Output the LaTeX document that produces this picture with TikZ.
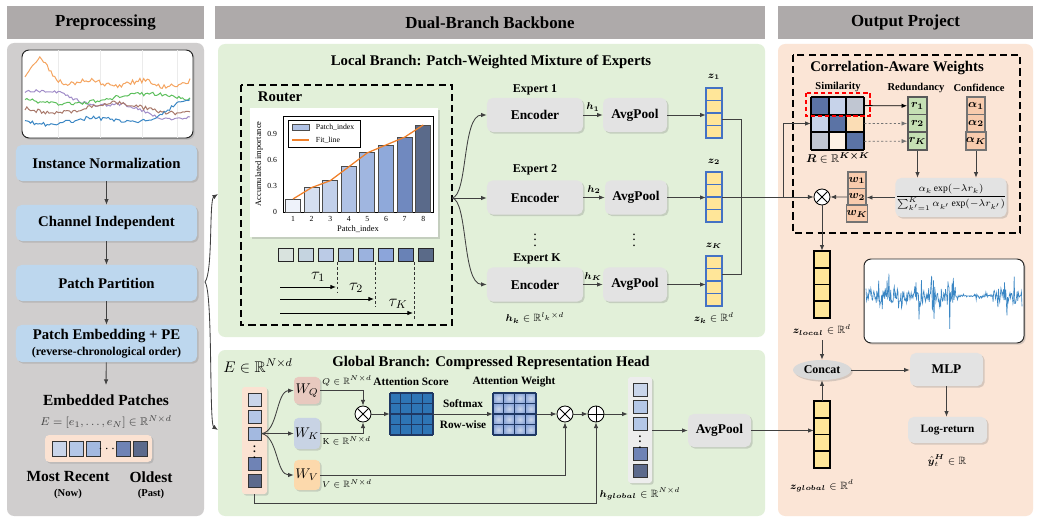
\documentclass[tikz,border=0pt]{standalone}
\usepackage{amsmath}
\usepackage{amssymb}
\usepackage{bm}
\usepackage{fontspec}
\setmainfont{Liberation Serif}
\usetikzlibrary{arrows.meta}
\usetikzlibrary{calc}
\usetikzlibrary{fit}
\usetikzlibrary{shadows}
\usetikzlibrary{shapes.geometric}

\definecolor{hdrgrey}{HTML}{AEAAAA}
\definecolor{leftgrey}{HTML}{D0CECE}
\definecolor{localgreen}{HTML}{E2F0D9}
\definecolor{outpeach}{HTML}{FBE5D6}
\definecolor{stageblue}{HTML}{BDD7EE}
\definecolor{blockgrey}{HTML}{E3E3E3}
\definecolor{zfill}{HTML}{FFE699}
\definecolor{zedge}{HTML}{4472C4}
\definecolor{fitorange}{HTML}{F0802A}
\definecolor{scoreblue}{HTML}{2E75B6}
\definecolor{gridnavy}{HTML}{1F3864}
\definecolor{wqfill}{HTML}{E8C9BF}
\definecolor{wkfill}{HTML}{C8D3E4}
\definecolor{wvfill}{HTML}{FCD9AC}
\definecolor{rgreen}{HTML}{C5E0B4}
\definecolor{apeach}{HTML}{F8CBAD}
\definecolor{epeach}{HTML}{FBE2D2}
\definecolor{colgrey}{HTML}{EDEDED}
\definecolor{sq1}{HTML}{C9D5EA}
\definecolor{sq2}{HTML}{B4C7E7}
\definecolor{sq3}{HTML}{A3B9E0}
\definecolor{sq7}{HTML}{6F83B5}
\definecolor{sq8}{HTML}{5C6A8C}
\definecolor{bar1}{HTML}{EEF2FA}
\definecolor{bar2}{HTML}{D5DFF0}
\definecolor{bar3}{HTML}{C2D0EA}
\definecolor{bar4}{HTML}{B0C2E5}
\definecolor{bar5}{HTML}{A0B6E0}
\definecolor{bar6}{HTML}{8FA9DA}
\definecolor{bar7}{HTML}{7089BF}
\definecolor{bar8}{HTML}{5A6A8A}
\definecolor{rs1}{HTML}{D9E3DE}
\definecolor{rs2}{HTML}{C5D4E0}
\definecolor{rs3}{HTML}{BBCBE6}
\definecolor{rs4}{HTML}{A8BDDF}
\definecolor{rs5}{HTML}{9BB2DE}
\definecolor{rs6}{HTML}{8CA5DA}
\definecolor{rs7}{HTML}{6982B6}
\definecolor{rs8}{HTML}{5A6A88}
\definecolor{sdark}{HTML}{5B73A5}
\definecolor{slight}{HTML}{C7D3EA}
\definecolor{sgrey}{HTML}{C0C6D2}
\definecolor{speach}{HTML}{FBDDB5}
\definecolor{swhite}{HTML}{FDF1E6}
\definecolor{tsorange}{HTML}{F5A45F}
\definecolor{tspurple}{HTML}{A08CC8}
\definecolor{tsgreen}{HTML}{5CBF5C}
\definecolor{tsbrown}{HTML}{A8786A}
\definecolor{tsblue}{HTML}{3A86C4}
\definecolor{concatgrey}{HTML}{D9D9D9}

\tikzstyle{softshadow} = [drop shadow={shadow xshift=1.2pt,shadow yshift=-1.2pt,opacity=0.3}]
\tikzstyle{head} = [fill=hdrgrey, inner sep=0pt, minimum height=0.825cm, font=\fontsize{12}{14}\selectfont\bfseries]
\tikzstyle{stage} = [fill=stageblue, rounded corners=4pt, inner sep=0pt, minimum width=4.525cm, minimum height=0.9cm, softshadow, font=\fontsize{10.5}{12}\selectfont\bfseries]
\tikzstyle{block} = [fill=blockgrey, rounded corners=4pt, inner sep=0pt, softshadow, font=\fontsize{9.5}{11}\selectfont\bfseries]
\tikzstyle{wbox} = [rounded corners=3pt, inner sep=0pt, minimum width=0.65cm, softshadow, font=\fontsize{10}{12}\selectfont]
\tikzstyle{conn} = [draw=black!75, line width=0.6pt, -{Latex[length=4pt,width=3.2pt]}]
\tikzstyle{wire} = [draw=black!75, line width=0.6pt]
\tikzstyle{otimes} = [draw, circle, fill=white, line width=0.6pt, minimum size=0.4cm, inner sep=0pt,
  path picture={\draw (path picture bounding box.north west) -- (path picture bounding box.south east)
  (path picture bounding box.north east) -- (path picture bounding box.south west);}]
\tikzstyle{oplus} = [draw, circle, fill=white, line width=0.6pt, minimum size=0.4cm, inner sep=0pt,
  path picture={\draw (path picture bounding box.north) -- (path picture bounding box.south)
  (path picture bounding box.east) -- (path picture bounding box.west);}]
\tikzstyle{rcell} = [draw=black!65, line width=1.2pt, fill=rgreen, minimum width=0.475cm, minimum height=0.442cm, inner sep=0pt, font=\fontsize{8}{9}\selectfont]
\tikzstyle{acell} = [draw=black!55, line width=1.2pt, fill=apeach, minimum width=0.45cm, minimum height=0.442cm, inner sep=0pt, font=\fontsize{8}{9}\selectfont]
\tikzstyle{wcell} = [draw=black!55, line width=1.2pt, fill=apeach, minimum width=0.45cm, minimum height=0.417cm, inner sep=0pt, font=\fontsize{8}{9}\selectfont]
\tikzstyle{lbl} = [font=\fontsize{8}{9}\selectfont\bfseries]
\tikzstyle{mlbl} = [font=\fontsize{7.5}{9}\selectfont]

\begin{document}
\begin{tikzpicture}[x=0.025cm,y=-0.025cm]
\useasboundingbox (0,0) rectangle (1038,524);
\fill[white] (0,0) rectangle (1038,524);

%% headers and panels
\node[head, minimum width=4.925cm] (hpre) at (105.5,22.5) {Preprocessing};
\node[head, minimum width=13.75cm] (hdual) at (490,22.5) {Dual-Branch Backbone};
\node[head, minimum width=6.375cm] (hout) at (905.5,22.5) {Output Project};
\fill[leftgrey, rounded corners=5pt] (7,43) rectangle (204,516);
\fill[localgreen, rounded corners=5pt] (218,44) rectangle (765,337);
\fill[localgreen, rounded corners=5pt] (218,350) rectangle (765,516);
\fill[outpeach, rounded corners=5pt] (778,44) rectangle (1033,516);

%% preprocessing
\node[draw=black!85, line width=0.7pt, fill=white, rounded corners=5pt, softshadow, inner sep=0pt, fit={(22,50) (193,138)}] (tsin) {};
\begin{scope}
\clip[rounded corners=5pt] (22,50) rectangle (193,138);
\foreach \gx in {58,100,142,177} \draw[black!8] (\gx,50) -- (\gx,138);
\pgfmathsetseed{11}
\draw[tsorange, line width=0.7pt] plot[domain=25:190, samples=90] (\x,{84-24/(1+((\x-40)/10)*((\x-40)/10))+3*sin(7*\x)+2.5*rand});
\draw[tspurple, line width=0.7pt] plot[domain=25:190, samples=90] (\x,{89+0.19*(\x-25)+3*sin(5*\x)+1.5*rand});
\draw[tsgreen, line width=0.7pt] plot[domain=25:190, samples=90] (\x,{99+5*sin((\x-25)*2.2)+1.8*rand});
\draw[tsbrown, line width=0.7pt] plot[domain=25:190, samples=90] (\x,{108+5*sin((\x-25)*3)+2*rand});
\draw[tsblue, line width=0.7pt] plot[domain=25:190, samples=90] (\x,{122+3*sin((\x-25)*4)-20/(1+((\x-189)/22)*((\x-189)/22))+2*rand});
\end{scope}

\node[stage] (inorm) at (106.5,163) {Instance Normalization};
\node[stage] (chind) at (106.5,223) {Channel Independent};
\node[stage] (ppart) at (106.5,283) {Patch Partition};
\node[stage, minimum height=0.925cm, align=center] (pemb) at (106.5,343.5) {Patch Embedding + PE\\[-1pt]{\fontsize{8.5}{10}\selectfont(reverse-chronological order)}};
\coordinate (embtop) at (106,385);
\draw[conn] (inorm) -- (chind);
\draw[conn] (chind) -- (ppart);
\draw[conn] (ppart) -- (pemb);
\draw[conn] (pemb) -- (embtop);

\node[font=\fontsize{11}{13}\selectfont\bfseries] (embtxt) at (106,400) {Embedded Patches};
\node[font=\fontsize{8}{9}\selectfont, text=black!75] (embeq) at (106,422) {$E=[e_1,\ldots,e_N]\in\mathbb{R}^{N\times d}$};
\node[fill=epeach, rounded corners=3pt, softshadow, inner sep=0pt, fit={(45,435) (152,462)}] (prow) {};
\foreach \px/\col in {52/sq1, 69/sq2, 86/sq3, 116/sq7, 133/sq8}
  \draw[fill=\col, draw=black!80, line width=0.6pt] (\px,441) rectangle ++(14,15);
\node[font=\bfseries, inner sep=0pt] (pdots) at (108,449) {$\cdots$};
\node[font=\fontsize{11}{13}\selectfont\bfseries] (recent) at (68,477) {Most Recent};
\node[font=\fontsize{7.5}{9}\selectfont\bfseries] (now) at (68,494) {(Now)};
\node[font=\fontsize{11}{13}\selectfont\bfseries] (oldest) at (151,477) {Oldest};
\node[font=\fontsize{7.5}{9}\selectfont\bfseries] (past) at (151,494) {(Past)};

\coordinate (brc) at (205,282);
\draw[conn] (brc) .. controls (213,272) and (209,200) .. (218,194);
\draw[conn] (brc) .. controls (213,292) and (209,424) .. (218,430);

%% local branch
\node[font=\fontsize{10.5}{12}\selectfont\bfseries] (ltitle) at (491,62) {Local Branch: Patch-Weighted Mixture of Experts};
\draw[line width=1.2pt, dash pattern=on 5pt off 3pt] (241,85) rectangle (452,325);
\node[font=\fontsize{10.5}{12}\selectfont\bfseries, anchor=west] (rtitle) at (253,97) {Router};

\node[fill=white, softshadow, inner sep=0pt, fit={(250,108) (438,237)}] (chart) {};
\draw[line width=0.5pt] (283,116) rectangle (433,212);
\foreach \i/\v/\col in {1/0.15/bar1, 2/0.28/bar2, 3/0.36/bar3, 4/0.52/bar4, 5/0.68/bar5, 6/0.77/bar6, 7/0.86/bar7, 8/1.0/bar8}{
  \draw[fill=\col, draw=black!70, line width=0.6pt] ({293+18.6*(\i-1)-7.5},212) rectangle ({293+18.6*(\i-1)+7.5},{212-87*\v});
  \node[font=\fontsize{5.5}{6}\selectfont] (xt\i) at ({293+18.6*(\i-1)},219) {\i};
}
\foreach \v [count=\n] in {0,0.3,0.6,0.9}
  \node[font=\fontsize{5.5}{6}\selectfont, anchor=east] (yt\n) at (282,{212-87*\v}) {\v};
\draw[fitorange, line width=0.9pt] (293,199) -- (311.6,187.6) -- (330.2,180.7) -- (348.8,166.8) -- (367.4,152.8) -- (386,145) -- (404.6,137.2) -- (423.2,125);
\node[font=\fontsize{6}{7}\selectfont] (xlab) at (358,229) {Patch\_index};
\node[font=\fontsize{6}{7}\selectfont, rotate=90] (ylab) at (259,164) {Accumulated importance};
\draw[fill=white, line width=0.4pt] (288,120) rectangle (360,147);
\draw[fill=bar4, draw=black!70, line width=0.5pt] (292,124) rectangle (309,130);
\node[font=\fontsize{5.5}{6}\selectfont, anchor=west] (leg1) at (311,127) {Patch\_index};
\draw[fitorange, line width=0.9pt] (292,140) -- (309,140);
\node[font=\fontsize{5.5}{6}\selectfont, anchor=west] (leg2) at (311,140) {Fit\_line};

\foreach \i/\col in {0/rs1, 1/rs2, 2/rs3, 3/rs4, 4/rs5, 5/rs6, 6/rs7, 7/rs8}
  \draw[fill=\col, draw=black!85, line width=0.6pt] ({278+20*\i},248) rectangle ++(15,13);
\foreach \tx/\ty/\te in {337/287/293, 375/299/307, 414/313/321}{
  \draw[black!80, dash pattern=on 2pt off 1.5pt, line width=0.5pt] (\tx,262) -- (\tx,\te);
  \draw[conn, draw=black] (280,\ty) -- ({\tx-1},\ty);
}
\node[font=\fontsize{12}{14}\selectfont] (tau1) at (318,277) {$\tau_1$};
\node[font=\fontsize{12}{14}\selectfont] (tau2) at (356,288) {$\tau_2$};
\node[font=\fontsize{12}{14}\selectfont] (tauK) at (398,304) {$\tau_K$};

\coordinate (rout) at (452,198);
\node[font=\fontsize{8.5}{10}\selectfont\bfseries] (ex1) at (535,90) {Expert 1};
\node[font=\fontsize{8.5}{10}\selectfont\bfseries] (ex2) at (535,170) {Expert 2};
\node[font=\fontsize{8.5}{10}\selectfont\bfseries] (exK) at (537,259) {Expert K};
\node[block, minimum width=2.4cm, minimum height=0.85cm] (enc1) at (535,115) {Encoder};
\node[block, minimum width=1.6cm, minimum height=0.85cm] (pool1) at (635,115) {AvgPool};
\node[block, minimum width=2.4cm, minimum height=0.85cm] (enc2) at (535,197.5) {Encoder};
\node[block, minimum width=1.55cm, minimum height=0.85cm] (pool2) at (636,197.5) {AvgPool};
\node[block, minimum width=2.4cm, minimum height=0.85cm] (encK) at (535,284.5) {Encoder};
\node[block, minimum width=1.6cm, minimum height=0.85cm] (poolK) at (635,284.5) {AvgPool};
\node[inner sep=0pt] (vdot1) at (535,236) {$\vdots$};
\node[inner sep=0pt] (vdot2) at (634,236) {$\vdots$};

\draw[conn] (rout) .. controls (468,196) and (462,115) .. (enc1.west);
\draw[conn] (rout) -- (rout -| enc2.west);
\draw[conn] (rout) .. controls (468,200) and (462,284) .. (encK.west);
\draw[conn] (enc1) -- node[above, mlbl, yshift=-1pt] {$\bm{h_1}$} (pool1);
\draw[conn] (enc2) -- node[above, mlbl, yshift=-1pt] {$\bm{h_2}$} (pool2);
\draw[conn] (encK) -- node[above, mlbl, yshift=-1pt] {$\bm{h_K}$} (poolK);

\foreach \n/\yt in {1/88, 2/172, K/256}{
  \foreach \j in {0,...,3}
    \draw[fill=zfill, draw=zedge, line width=1.2pt] (706,{\yt+12.5*\j}) rectangle (722,{\yt+12.5*\j+12.5});
  \node[inner sep=0pt, fit={(706,\yt) (722,{\yt+50})}] (z\n) {};
}
\node[mlbl] (z1lab) at (714,77) {$\bm{z_1}$};
\node[mlbl] (z2lab) at (714,162) {$\bm{z_2}$};
\node[mlbl] (zKlab) at (714,246) {$\bm{z_K}$};
\draw[conn] (pool1.east) -- (pool1.east -| z1.west);
\draw[conn] (pool2.east) -- (pool2.east -| z2.west);
\draw[conn] (poolK.east) -- (poolK.east -| zK.west);
\node[mlbl] (hklab) at (535,318) {$\bm{h_k}\in\mathbb{R}^{l_k\times d}$};
\node[mlbl] (zklab) at (714,318) {$\bm{z_k}\in\mathbb{R}^{d}$};
\coordinate (b1) at ($(z1.north east)!0.625!(z1.south east)$);
\coordinate (bK) at ($(zK.north east)!0.375!(zK.south east)$);
\draw[wire] (b1) -- ++(19,0) |- (bK);

%% global branch
\node[font=\fontsize{10.5}{12}\selectfont\bfseries] (gtitle) at (491,363) {Global Branch: Compressed Representation Head};
\node[font=\fontsize{11}{13}\selectfont] (elab) at (258,366) {$E\in\mathbb{R}^{N\times d}$};
\node[fill=epeach, rounded corners=2pt, softshadow, inner sep=0pt, fit={(242,387) (267,494)}] (ecol) {};
\foreach \ey/\col in {393/sq1, 410/sq2, 427/sq3, 457/sq7, 474/sq8}
  \draw[fill=\col, draw=black!80, line width=0.6pt] (248,\ey) rectangle ++(13,13);
\node[inner sep=0pt, fit={(248,427) (261,440)}] (e3) {};
\node[font=\fontsize{8}{8}\selectfont\bfseries, inner sep=0pt] (edots) at (254.5,448) {$\vdots$};

\node[wbox, fill=wqfill, minimum height=0.675cm] (wq) at (307,390.5) {$W_Q$};
\node[wbox, fill=wkfill, minimum height=0.775cm] (wk) at (307,433.5) {$W_K$};
\node[wbox, fill=wvfill, minimum height=0.75cm] (wv) at (307,475) {$W_V$};
\draw[conn] (e3.east) .. controls (278,433) and (276,391) .. (wq.west);
\draw[conn] (e3.east) -- (e3.east -| wk.west);
\draw[conn] (e3.east) .. controls (278,436) and (276,475) .. (wv.west);
\node[font=\fontsize{6.5}{8}\selectfont] (qlab) at (347,381) {$Q\in\mathbb{R}^{N\times d}$};
\node[font=\fontsize{6.5}{8}\selectfont] (klab) at (347,441) {$\mathrm{K}\in\mathbb{R}^{N\times d}$};
\node[font=\fontsize{6.5}{8}\selectfont] (vlab) at (347,484) {$V\in\mathbb{R}^{N\times d}$};

\node[otimes] (otq) at (363,414) {};
\draw[conn] (wq.east) -| (otq.north);
\draw[conn] (wk.east) -| (otq.south);

\foreach \ii in {0,...,3} \foreach \jj in {0,...,3}{
  \fill[scoreblue] ({390+10.75*\ii},{393+10.5*\jj}) rectangle ++(10.75,10.5);
  \shade[inner color=sq1, outer color=bar6] ({493+10.75*\ii},{393+10.5*\jj}) rectangle ++(10.75,10.5);
}
\foreach \ii in {0,...,4}{
  \draw[gridnavy, line width=0.9pt] ({390+10.75*\ii},393) -- ++(0,42);
  \draw[gridnavy, line width=0.9pt] (390,{393+10.5*\ii}) -- ++(43,0);
  \draw[gridnavy, line width=0.9pt] ({493+10.75*\ii},393) -- ++(0,42);
  \draw[gridnavy, line width=0.9pt] (493,{393+10.5*\ii}) -- ++(43,0);
}
\node[inner sep=0pt, fit={(390,393) (433,435)}] (ascore) {};
\node[inner sep=0pt, fit={(493,393) (536,435)}] (aweight) {};
\node[lbl] (asl) at (411,382) {Attention Score};
\node[lbl] (awl) at (514,382) {Attention Weight};
\draw[conn] (otq) -- (ascore);
\draw[conn] (ascore) -- node[above, lbl, yshift=1pt] {Softmax} node[below, lbl, yshift=-1pt] {Row-wise} (aweight);

\node[otimes] (otv) at (565,414) {};
\node[oplus] (opl) at (596,414) {};
\draw[conn] (aweight) -- (otv);
\draw[conn] (otv) -- (opl);
\draw[conn] (wv.east) -| (otv.south);
\draw[conn] (ecol.south) -- ++(0,9) -| (opl.south);

\node[fill=colgrey, rounded corners=2pt, softshadow, inner sep=0pt, fit={(628,377) (652,483)}] (hcol) {};
\foreach \hy/\col in {383/sq1, 400/sq2, 417/sq2, 447/sq7, 464/sq8}
  \draw[fill=\col, draw=black!80, line width=0.6pt] (633,\hy) rectangle ++(14,13);
\node[font=\fontsize{8}{8}\selectfont\bfseries, inner sep=0pt] (hdots) at (640,438) {$\vdots$};
\draw[conn] (opl) -- (opl -| hcol.west);
\node[mlbl] (hglab) at (640,494) {$\bm{h_{global}}\in\mathbb{R}^{N\times d}$};
\node[block, minimum width=1.575cm, minimum height=0.825cm] (gpool) at (719.5,430.5) {AvgPool};
\draw[conn] (hcol.east |- gpool.west) -- (gpool.west);

%% output project
\draw[line width=1.2pt, dash pattern=on 5pt off 3pt] (793,55) rectangle (1020,233);
\node[lbl, font=\fontsize{10.5}{12}\selectfont\bfseries] (cwtitle) at (897,68) {Correlation-Aware Weights};
\node[lbl, font=\fontsize{7.5}{9}\selectfont\bfseries] (simlab) at (838,87) {Similarity};
\node[lbl, font=\fontsize{7.5}{9}\selectfont\bfseries] (redlab) at (916,88) {Redundancy};
\node[lbl, font=\fontsize{7.5}{9}\selectfont\bfseries] (conflab) at (979,88) {Confidence};

\foreach \ii/\jj/\col in {0/0/sdark, 1/0/slight, 2/0/sgrey, 0/1/slight, 1/1/sdark, 2/1/speach, 0/2/sgrey, 1/2/swhite, 2/2/sdark}
  \fill[\col] ({811+17.67*\ii},{97+17.67*\jj}) rectangle ++(17.67,17.67);
\foreach \ii in {0,...,3}{
  \draw[line width=1.6pt] ({811+17.67*\ii},97) -- ++(0,53);
  \draw[line width=1.6pt] (811,{97+17.67*\ii}) -- ++(53,0);
}
\node[inner sep=0pt, fit={(811,97) (864,150)}] (sim) {};
\draw[red, line width=0.9pt, dash pattern=on 3pt off 2pt] (806,93) rectangle (870,116);
\node[font=\fontsize{8}{9}\selectfont] (rlab) at (838,158) {$\bm{R}\in\mathbb{R}^{\bm{K\times K}}$};

\foreach \j/\lab in {0/1, 1/2, 2/K}{
  \node[rcell] (r\lab) at (917.5,{105.8+17.67*\j}) {$\bm{r_\lab}$};
  \node[acell] (a\lab) at (976,{105.8+17.67*\j}) {$\bm{\alpha_\lab}$};
}
\draw[conn, draw=black] ($(sim.north east)!1/6!(sim.south east)$) -- (r1.west);
\draw[conn, draw=black!55, dash pattern=on 1.5pt off 1.5pt] (sim.east) -- (r2.west);
\draw[conn, draw=black!55, dash pattern=on 1.5pt off 1.5pt] ($(sim.north east)!5/6!(sim.south east)$) -- (rK.west);

\node[block, minimum width=2.6cm, minimum height=0.975cm, font=\fontsize{6.8}{8}\selectfont] (wform) at (951,197.5) {$\dfrac{\alpha_k\exp(-\lambda r_k)}{\sum\nolimits_{k'=1}^{K}\alpha_{k'}\exp(-\lambda r_{k'})}$};
\draw[conn] (rK.south) -- (rK.south |- wform.north);
\draw[conn] (aK.south) -- (aK.south |- wform.north);
\foreach \j/\lab in {0/1, 1/2, 2/K}
  \node[wcell] (w\lab) at (857,{180.3+16.67*\j}) {$\bm{w_\lab}$};
\node[otimes] (otw) at (822,197) {};
\draw[conn] (wform.west) -- (wform.west -| w2.east);
\draw[conn] (w2.west) -- (otw.east);

\draw[conn] (z2.east) -- (otw.west);
\coordinate (sbr) at (783,197);
\draw[conn] (sbr) |- (sim.west);

\foreach \j in {0,...,3}{
  \draw[fill=zfill, draw=black, line width=1.4pt] (814,{251+16.75*\j}) rectangle ++(16,16.75);
  \draw[fill=zfill, draw=black, line width=1.4pt] (814,{401+16.75*\j}) rectangle ++(16,16.75);
}
\node[inner sep=0pt, fit={(814,251) (830,318)}] (zloc) {};
\node[inner sep=0pt, fit={(814,401) (830,468)}] (zglob) {};
\draw[conn] (otw.south) -- (zloc.north);
\draw[conn] (gpool.east) -- (gpool.east -| zglob.west);
\node[mlbl] (zllab) at (822,330) {$\bm{z_{local}}\in\mathbb{R}^{d}$};
\node[mlbl] (zglab) at (822,486) {$\bm{z_{global}}\in\mathbb{R}^{d}$};
\node[ellipse, fill=concatgrey, softshadow, minimum width=1.45cm, minimum height=0.5cm, inner sep=0pt, font=\fontsize{8.5}{10}\selectfont\bfseries] (concat) at (822,370) {Concat};
\draw[conn] (zllab) -- (concat);
\draw[conn] (zglob) -- (concat);

\node[draw=black!85, line width=0.7pt, fill=white, rounded corners=5pt, softshadow, inner sep=0pt, fit={(864,259) (1024,343)}] (tsout) {};
\begin{scope}
\clip[rounded corners=5pt] (864,259) rectangle (1024,343);
\pgfmathsetseed{5}
\draw[tsblue, line width=0.45pt] plot[domain=866:1022, samples=260] (\x,{296+(\x<958 ? 1 : (\x<992 ? 0.15 : 0.8))*(7*rand+32*rand*rand*rand)});
\end{scope}

\node[block, minimum width=1.825cm, minimum height=0.825cm, font=\fontsize{9.5}{11}\selectfont\bfseries] (mlp) at (946.5,369.5) {MLP};
\node[block, minimum width=1.975cm, minimum height=0.65cm, font=\fontsize{8}{9}\selectfont\bfseries] (logret) at (947.5,430) {Log-return};
\draw[conn] (concat.east) -- (concat.east -| mlp.west);
\draw[conn] (mlp.south) -- (mlp.south |- logret.north);
\node[mlbl] (yhat) at (947,461) {$\hat{\bm{y}}_t^{\bm{H}}\in\mathbb{R}$};

\end{tikzpicture}
\end{document}
